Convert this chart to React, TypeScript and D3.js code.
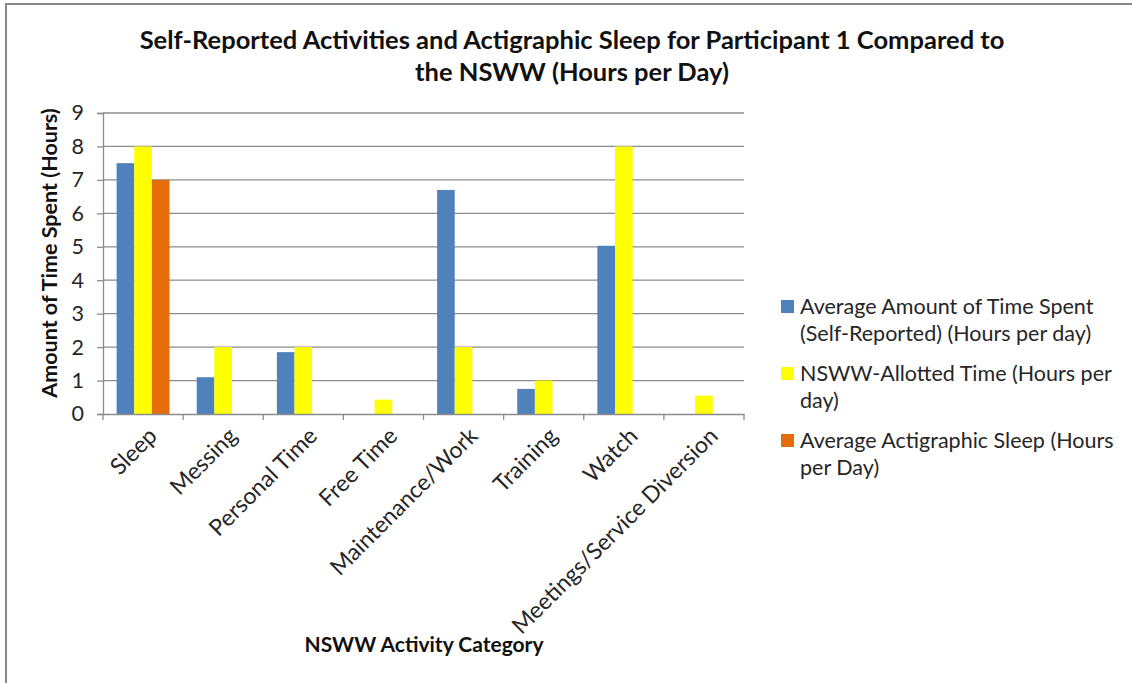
import { useEffect, useRef } from "react";
import * as d3 from "d3";

const categories = [
  "Sleep",
  "Messing",
  "Personal Time",
  "Free Time",
  "Maintenance/Work",
  "Training",
  "Watch",
  "Meetings/Service Diversion",
];

const seriesNames = [
  "Average Amount of Time Spent (Self-Reported) (Hours per day)",
  "NSWW-Allotted Time (Hours per day)",
  "Average Actigraphic Sleep (Hours per Day)",
];

const selfReported = [7.5, 1.1, 1.85, 0, 6.7, 0.75, 5.03, 0];
const allotted = [8, 2, 2, 0.43, 2, 1, 8, 0.55];
const actigraphic = [7, 0, 0, 0, 0, 0, 0, 0];

const legendLines = [
  ["Average Amount of Time Spent", "(Self-Reported) (Hours per day)"],
  ["NSWW-Allotted Time (Hours per", "day)"],
  ["Average Actigraphic Sleep (Hours", "per Day)"],
];

const yTicks = [0, 1, 2, 3, 4, 5, 6, 7, 8, 9];

const colors = ["#4F81BD", "#FFFF00", "#E46C0A"];

export default function App() {
  const ref = useRef<SVGSVGElement>(null);
  const width = 1132;
  const height = 683;

  useEffect(() => {
    if (!ref.current) return;
    const root = d3.select(ref.current);
    root.selectAll("*").remove();

    const font = "Lato, 'Open Sans', sans-serif";
    const plot = { left: 103, right: 744, top: 113, bottom: 414 };

    root.append("rect").attr("width", width).attr("height", height).attr("fill", "#fff");
    // chart frame
    root
      .append("path")
      .attr("d", `M6,${height} V4 H${width}`)
      .attr("fill", "none")
      .attr("stroke", "#878787")
      .attr("stroke-width", 2);

    const x0 = d3
      .scaleBand()
      .domain(categories)
      .range([plot.left, plot.right])
      .paddingInner(0.34)
      .paddingOuter(0.17);

    const x1 = d3
      .scaleBand()
      .domain(seriesNames)
      .range([0, x0.bandwidth()]);

    const y = d3.scaleLinear().domain([0, 9]).range([plot.bottom, plot.top]);

    // gridlines
    root
      .append("g")
      .selectAll("line")
      .data(yTicks.slice(1))
      .enter()
      .append("line")
      .attr("x1", plot.left)
      .attr("x2", plot.right)
      .attr("y1", (d: number) => y(d))
      .attr("y2", (d: number) => y(d))
      .attr("stroke", "#8c8c8c")
      .attr("stroke-width", 1.3);

    const values = [selfReported, allotted, actigraphic];
    const rows = categories.map((c, i) => ({
      cat: c,
      vals: seriesNames.map((s, j) => ({ s, j, v: values[j][i] })),
    }));

    const groups = root
      .append("g")
      .selectAll("g")
      .data(rows)
      .enter()
      .append("g")
      .attr("transform", (d: any) => `translate(${x0(d.cat)},0)`);

    groups
      .selectAll("rect")
      .data((d: any) => d.vals.filter((e: any) => e.v > 0))
      .enter()
      .append("rect")
      .attr("x", (d: any) => x1(d.s) ?? 0)
      .attr("y", (d: any) => y(d.v))
      .attr("width", x1.bandwidth())
      .attr("height", (d: any) => plot.bottom - y(d.v))
      .attr("fill", (d: any) => colors[d.j]);

    // y axis
    const yAxis = root
      .append("g")
      .attr("transform", `translate(${plot.left},0)`)
      .call(d3.axisLeft(y).tickValues(yTicks).tickSize(6).tickPadding(13).tickFormat(d3.format("d")));
    yAxis.select(".domain").attr("stroke", "#8c8c8c").attr("stroke-width", 1.3);
    yAxis.selectAll(".tick line").attr("stroke", "#8c8c8c").attr("stroke-width", 1.3);
    yAxis
      .selectAll(".tick text")
      .attr("font-family", font)
      .attr("font-size", 21.5)
      .attr("fill", "#262626");

    // x axis
    const xAxis = root
      .append("g")
      .attr("transform", `translate(0,${plot.bottom})`)
      .call(d3.axisBottom(x0).tickSize(0).tickFormat(() => ""));
    xAxis.select(".domain").attr("stroke", "#8c8c8c").attr("stroke-width", 1.3);
    xAxis.selectAll(".tick").remove();

    const step = x0.step();
    root
      .append("g")
      .selectAll("line")
      .data(d3.range(categories.length + 1))
      .enter()
      .append("line")
      .attr("x1", (i: number) => plot.left + i * step)
      .attr("x2", (i: number) => plot.left + i * step)
      .attr("y1", plot.bottom)
      .attr("y2", plot.bottom + 6)
      .attr("stroke", "#8c8c8c")
      .attr("stroke-width", 1.3);

    root
      .append("g")
      .selectAll("text")
      .data(categories)
      .enter()
      .append("text")
      .attr(
        "transform",
        (d: string) => `translate(${(x0(d) ?? 0) + x0.bandwidth() / 2 + 4},${plot.bottom + 12}) rotate(-45)`
      )
      .attr("text-anchor", "end")
      .attr("dy", "0.7em")
      .attr("font-family", font)
      .attr("font-size", 23)
      .attr("fill", "#262626")
      .text((d: string) => d);

    // titles
    const title = root
      .append("text")
      .attr("text-anchor", "middle")
      .attr("font-family", font)
      .attr("font-weight", "bold")
      .attr("font-size", 25.5)
      .attr("fill", "#111");
    title.append("tspan").attr("x", 572).attr("y", 49).text("Self-Reported Activities and Actigraphic Sleep for Participant 1 Compared to");
    title.append("tspan").attr("x", 572).attr("y", 81).text("the NSWW (Hours per Day)");

    root
      .append("text")
      .attr("transform", "translate(57,253) rotate(-90)")
      .attr("text-anchor", "middle")
      .attr("font-family", font)
      .attr("font-weight", "bold")
      .attr("font-size", 21.5)
      .attr("fill", "#111")
      .text("Amount of Time Spent (Hours)");

    root
      .append("text")
      .attr("x", 424)
      .attr("y", 652)
      .attr("text-anchor", "middle")
      .attr("font-family", font)
      .attr("font-weight", "bold")
      .attr("font-size", 21)
      .attr("fill", "#111")
      .text("NSWW Activity Category");

    // legend
    const legend = root
      .append("g")
      .selectAll("g")
      .data(legendLines)
      .enter()
      .append("g")
      .attr("transform", (_d: string[], i: number) => `translate(781,${300 + i * 67})`);

    legend
      .append("rect")
      .attr("width", 13)
      .attr("height", 13)
      .attr("fill", (_d: string[], i: number) => colors[i]);

    const lt = legend
      .append("text")
      .attr("font-family", font)
      .attr("font-size", 21.5)
      .attr("fill", "#262626");
    lt.selectAll("tspan")
      .data((d: string[]) => d)
      .enter()
      .append("tspan")
      .attr("x", 19)
      .attr("y", (_d: string, i: number) => 14 + i * 27)
      .text((d: string) => d);
  }, []);

  return (
    <svg
      ref={ref}
      width={width}
      height={height}
      style={{ position: "absolute", left: 0, top: 0, display: "block" }}
    />
  );
}
